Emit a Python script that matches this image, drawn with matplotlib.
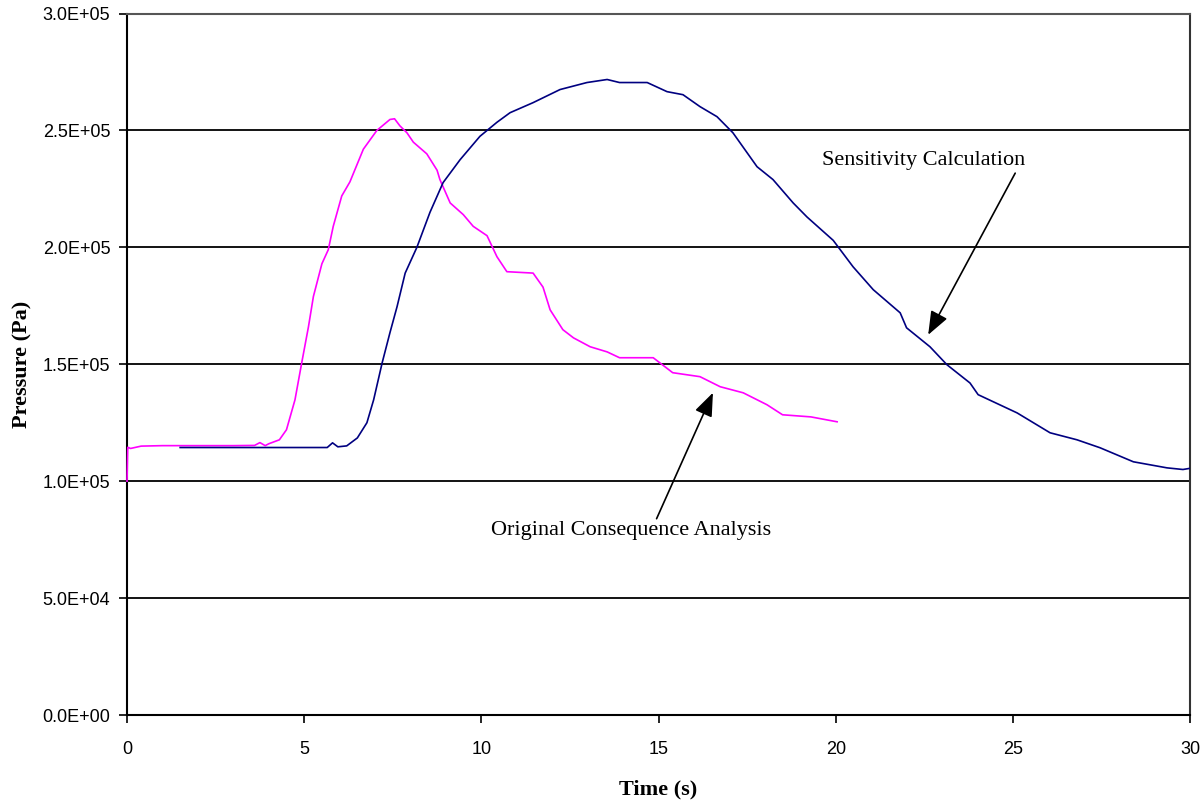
import matplotlib.pyplot as plt
from matplotlib.ticker import FuncFormatter

# Original consequence analysis (time in s, pressure in Pa)
orig_time = [0, 0.02, 0.1, 0.4, 1.0, 2, 3, 3.6, 3.75, 3.9, 4.0, 4.3, 4.5, 4.74, 4.93,
             5.12, 5.26, 5.5, 5.68, 5.82, 6.06, 6.29, 6.67, 7.05, 7.42, 7.55, 7.7, 7.9,
             8.08, 8.46, 8.75, 8.83, 9.12, 9.49, 9.77, 10.16, 10.44, 10.72, 11.46, 11.74,
             11.94, 12.3, 12.6, 13.07, 13.55, 13.9, 14.85, 15.4, 16.17, 16.74, 17.39,
             18.06, 18.5, 19.3, 20.04]
orig_pressure = [1.0, 1.145, 1.14, 1.15, 1.152, 1.152, 1.152, 1.153, 1.165, 1.152, 1.16,
                 1.177, 1.22, 1.348, 1.506, 1.66, 1.79, 1.93, 1.99, 2.09, 2.22, 2.28, 2.42,
                 2.50, 2.547, 2.55, 2.52, 2.49, 2.45, 2.40, 2.33, 2.29, 2.19, 2.14, 2.09,
                 2.05, 1.96, 1.896, 1.89, 1.83, 1.733, 1.648, 1.613, 1.575, 1.553, 1.528,
                 1.528, 1.464, 1.447, 1.404, 1.378, 1.327, 1.284, 1.275, 1.254]
orig_pressure = [p * 1e5 for p in orig_pressure]

# Sensitivity calculation
sens_time = [1.5, 5.65, 5.8, 5.95, 6.2, 6.5, 6.77, 6.96, 7.2, 7.42, 7.62, 7.85, 8.18,
             8.55, 8.92, 9.4, 9.96, 10.44, 10.81, 11.46, 12.22, 12.98, 13.55, 13.9, 14.68,
             15.24, 15.69, 16.17, 16.65, 17.1, 17.78, 18.23, 18.8, 19.19, 19.93, 20.49,
             21.06, 21.82, 22.0, 22.66, 23.14, 23.79, 24.02, 25.12, 26.05, 26.81, 27.46,
             28.4, 29.35, 29.8, 30.0]
sens_pressure = [1.144, 1.144, 1.164, 1.147, 1.151, 1.185, 1.25, 1.348, 1.506, 1.635,
                 1.746, 1.89, 2.0, 2.15, 2.277, 2.375, 2.475, 2.535, 2.576, 2.619, 2.675,
                 2.705, 2.718, 2.705, 2.705, 2.666, 2.653, 2.602, 2.559, 2.49, 2.345, 2.29,
                 2.19, 2.13, 2.03, 1.917, 1.819, 1.72, 1.656, 1.575, 1.498, 1.42, 1.37,
                 1.292, 1.207, 1.177, 1.143, 1.083, 1.057, 1.05, 1.055]
sens_pressure = [p * 1e5 for p in sens_pressure]

x_ticks = [0, 5, 10, 15, 20, 25, 30]
y_ticks = [0, 5e4, 1e5, 1.5e5, 2e5, 2.5e5, 3e5]

fig = plt.figure(figsize=(12.04, 8), dpi=100)
ax = fig.add_axes([0.1055, 0.10625, 0.8829, 0.8768])

for y in y_ticks[1:-1]:
    ax.axhline(y, color='black', lw=1.3, zorder=1)

ax.plot(orig_time, orig_pressure, color='#FF00FF', lw=1.2, zorder=3, clip_on=False)
ax.plot(sens_time, sens_pressure, color='#000080', lw=1.2, zorder=3)

ax.set_xlim(0, 30)
ax.set_ylim(0, 3e5)
ax.set_xticks(x_ticks)
ax.set_yticks(y_ticks)
ax.yaxis.set_major_formatter(FuncFormatter(lambda v, pos: f'{v:.1E}'))
ax.tick_params(direction='out', length=6, width=1.2, labelsize=13, pad=6,
               labelfontfamily='Liberation Sans')
ax.tick_params(axis='x', pad=13)

for side in ['left', 'bottom']:
    ax.spines[side].set_linewidth(1.5)
ax.spines['top'].set_color('#555555')
ax.spines['right'].set_color('#333333')
ax.spines['top'].set_linewidth(1.5)
ax.spines['right'].set_linewidth(1.5)

ax.set_xlabel('Time (s)', fontfamily='Liberation Serif', fontweight='bold',
              fontsize=16, labelpad=15)
ax.set_ylabel('Pressure (Pa)', fontfamily='Liberation Serif', fontweight='bold',
              fontsize=16, labelpad=7)

ax.annotate('Sensitivity Calculation', xy=(22.61, 1.626e5), xytext=(22.47, 2.37e5),
            fontfamily='Liberation Serif', fontsize=16, ha='center', va='center',
            arrowprops=dict(arrowstyle='-|>,head_length=0.9,head_width=0.35',
                            color='black', lw=1.2, shrinkA=0, shrinkB=0,
                            relpos=(0.97, 0.2)))
ax.annotate('Original Consequence Analysis', xy=(16.6, 1.40e5), xytext=(14.23, 0.787e5),
            fontfamily='Liberation Serif', fontsize=16, ha='center', va='center',
            arrowprops=dict(arrowstyle='-|>,head_length=0.9,head_width=0.35',
                            color='black', lw=1.2, shrinkA=0, shrinkB=4,
                            relpos=(0.586, 1.0)))

fig.savefig('out.png', dpi=100)
